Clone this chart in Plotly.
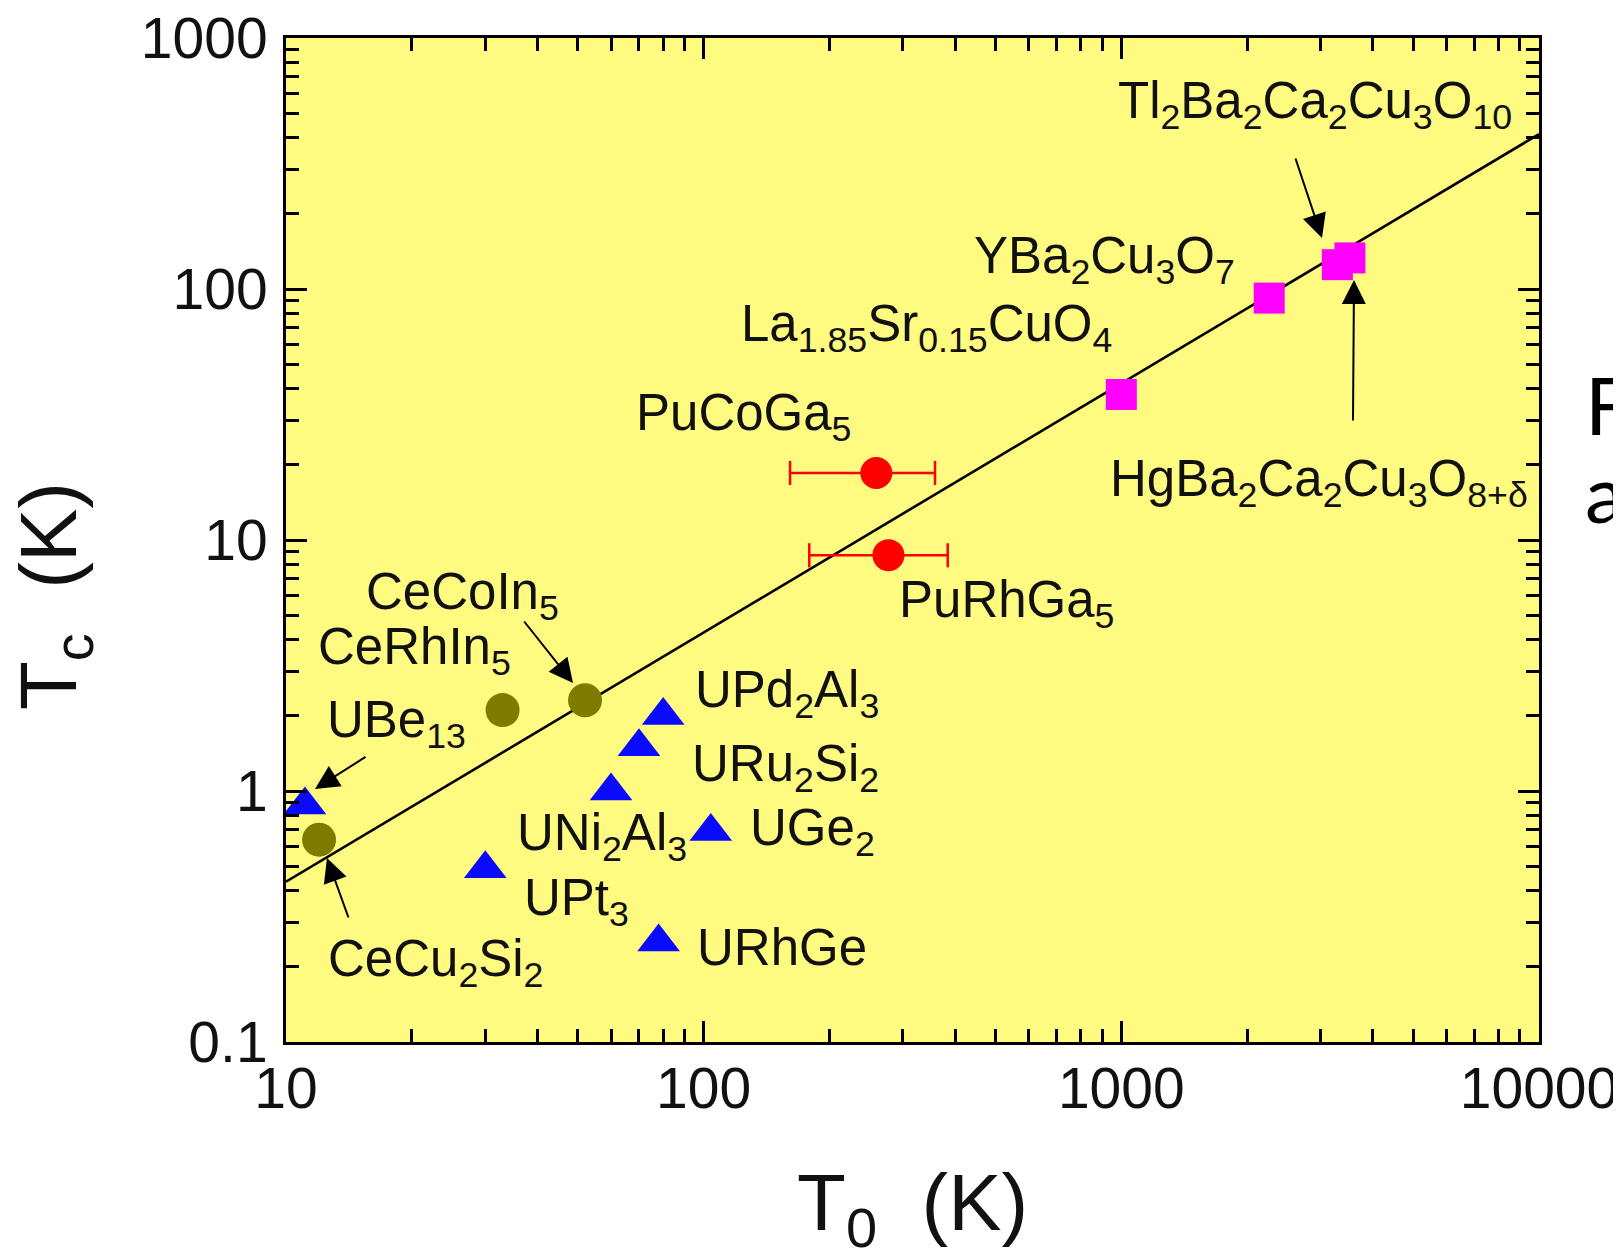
import plotly.graph_objects as go

# ---------------- data ----------------
cuprate_names = ["La1.85Sr0.15CuO4", "YBa2Cu3O7", "Tl2Ba2Ca2Cu3O10", "HgBa2Ca2Cu3O8+δ"]
cuprate_T0 = [1000, 2260, 3290, 3526]
cuprate_Tc = [38, 92, 125, 133]

pu_names = ["PuCoGa5", "PuRhGa5"]
pu_T0 = [259, 277]
pu_Tc = [18.5, 8.7]
pu_err_plus = [99, 107]
pu_err_minus = [98, 98]

ce_names = ["CeCu2Si2", "CeRhIn5", "CeCoIn5"]
ce_T0 = [12, 33, 52]
ce_Tc = [0.64, 2.1, 2.3]

u_names = ["UBe13", "UPt3", "UNi2Al3", "URu2Si2", "UPd2Al3", "UGe2", "URhGe"]
u_T0 = [11.1, 30, 60, 70, 80, 104, 78]
u_Tc = [0.88, 0.49, 1.0, 1.5, 2.0, 0.69, 0.25]

line_T0 = [10, 10000]
line_Tc = [0.435, 414]

x_tickvals = [10, 100, 1000, 10000]
x_ticktext = ["10", "100", "1000", "10000"]
y_tickvals = [0.1, 1, 10, 100, 1000]
y_ticktext = ["0.1", "1", "10", "100", "1000"]

x_minor = [k * 10 ** d for d in range(1, 4) for k in range(2, 10)]
y_minor = [k * 10.0 ** d for d in range(-1, 3) for k in range(2, 10)]

# ---------------- geometry (reference pixel frame; page has 8px body margin) ----------------
OFF = 8
W, H = 1621 - 2 * OFF, 1258 - 2 * OFF
L, R, T, B = 286, 1539, 38, 1042


def paper(px, py):
    return (px - L) / (R - L), 1 - (py - T) / (B - T)


FONT = "Liberation Sans, Arial, sans-serif"
fig = go.Figure()

fig.add_trace(go.Scatter(x=line_T0, y=line_Tc, mode="lines",
                         line=dict(color="black", width=2.6), showlegend=False))
fig.add_trace(go.Scatter(x=pu_T0, y=pu_Tc, mode="markers", text=pu_names,
                         marker=dict(symbol="circle", size=32, color="#FF0000"),
                         error_x=dict(type="data", array=pu_err_plus, arrayminus=pu_err_minus,
                                      color="#FF0000", thickness=2.5, width=12),
                         showlegend=False))
fig.add_trace(go.Scatter(x=ce_T0, y=ce_Tc, mode="markers", text=ce_names,
                         marker=dict(symbol="circle", size=34, color="#7F7A00"),
                         showlegend=False))
fig.add_trace(go.Scatter(x=u_T0, y=u_Tc, mode="markers", text=u_names,
                         marker=dict(symbol="triangle-up", size=37, color="#0A0AFF"),
                         showlegend=False))
fig.add_trace(go.Scatter(x=cuprate_T0, y=cuprate_Tc, mode="markers", text=cuprate_names,
                         marker=dict(symbol="square", size=31, color="#FF00FF"),
                         showlegend=False))

axis_common = dict(type="log", showgrid=False, zeroline=False, showline=True,
                   linecolor="black", linewidth=3, mirror="ticks", automargin=False,
                   ticks="inside", ticklen=21, tickwidth=2.5, tickcolor="black",
                   ticklabeloverflow="allow",
                   tickfont=dict(family=FONT, size=57, color="#111111"))

fig.update_xaxes(**axis_common, range=[1, 4], tickmode="array",
                 tickvals=x_tickvals, ticktext=x_ticktext, ticklabelstandoff=-5,
                 minor=dict(ticks="inside", ticklen=13, tickwidth=2.5, tickcolor="black",
                            tickmode="array", tickvals=x_minor, showgrid=False))
fig.update_yaxes(**axis_common, range=[-1, 3], tickmode="array",
                 tickvals=y_tickvals, ticktext=y_ticktext, ticklabelstandoff=4,
                 minor=dict(ticks="inside", ticklen=13, tickwidth=2.5, tickcolor="black",
                            tickmode="array", tickvals=y_minor, showgrid=False))

# ---------------- labels ----------------
labels = [
    ("Tl<sub>2</sub>Ba<sub>2</sub>Ca<sub>2</sub>Cu<sub>3</sub>O<sub>10</sub>", 1116, 105),
    ("YBa<sub>2</sub>Cu<sub>3</sub>O<sub>7</sub>", 972, 259),
    ("La<sub>1.85</sub>Sr<sub>0.15</sub>CuO<sub>4</sub>", 739, 328),
    ("PuCoGa<sub>5</sub>", 634, 416),
    ("HgBa<sub>2</sub>Ca<sub>2</sub>Cu<sub>3</sub>O<sub>8+δ</sub>", 1108, 482),
    ("PuRhGa<sub>5</sub>", 897, 603),
    ("CeCoIn<sub>5</sub>", 364, 595),
    ("CeRhIn<sub>5</sub>", 316, 650),
    ("UPd<sub>2</sub>Al<sub>3</sub>", 693, 693),
    ("UBe<sub>13</sub>", 325, 723),
    ("URu<sub>2</sub>Si<sub>2</sub>", 690, 767),
    ("UGe<sub>2</sub>", 748, 831),
    ("UNi<sub>2</sub>Al<sub>3</sub>", 515, 836),
    ("UPt<sub>3</sub>", 522, 901),
    ("URhGe", 695, 947),
    ("CeCu<sub>2</sub>Si<sub>2</sub>", 326, 962),
]
annotations = []
for txt, px, py in labels:
    xp, yp = paper(px, py)
    annotations.append(dict(text=txt, x=xp, y=yp, xref="paper", yref="paper",
                            xanchor="left", yanchor="middle", showarrow=False,
                            font=dict(family=FONT, size=51, color="#111111")))

# arrows: (tail px, tail py, head px, head py)
arrows = [
    (1295, 157, 1322, 238),
    (1353, 422, 1354, 280),
    (523, 620, 573, 683),
    (367, 756, 315, 789),
    (349, 919, 327, 858),
]
for tx, ty, hx, hy in arrows:
    xp, yp = paper(hx, hy)
    annotations.append(dict(text="", x=xp, y=yp, xref="paper", yref="paper",
                            ax=tx - hx, ay=ty - hy, axref="pixel", ayref="pixel",
                            showarrow=True, arrowhead=2, arrowsize=2.4, arrowwidth=2,
                            arrowcolor="black", standoff=0))

# axis titles
xp, yp = paper(912, 1208)
annotations.append(dict(text="T<sub>0</sub>  (K)", x=xp, y=yp, xref="paper", yref="paper",
                        xanchor="center", yanchor="middle", showarrow=False,
                        font=dict(family=FONT, size=80, color="#111111")))
xp, yp = paper(54, 596)
annotations.append(dict(text="T<sub>c</sub>  (K)", x=xp, y=yp, xref="paper", yref="paper",
                        xanchor="center", yanchor="middle", showarrow=False, textangle=-90,
                        font=dict(family=FONT, size=80, color="#111111")))

# cut-off text at right edge
for txt, py in [("F", 404), ("a", 492)]:
    xp, yp = paper(1583, py)
    annotations.append(dict(text=txt, x=xp, y=yp, xref="paper", yref="paper",
                            xanchor="left", yanchor="middle", showarrow=False,
                            font=dict(family="Lato, sans-serif", size=80, color="black")))

fig.update_layout(width=W, height=H, autosize=False,
                  margin=dict(l=L - OFF, r=W - (R - OFF), t=T - OFF, b=H - (B - OFF), pad=0),
                  paper_bgcolor="white", plot_bgcolor="#FFFA80",
                  annotations=annotations, showlegend=False)

fig.write_html("out.html")
